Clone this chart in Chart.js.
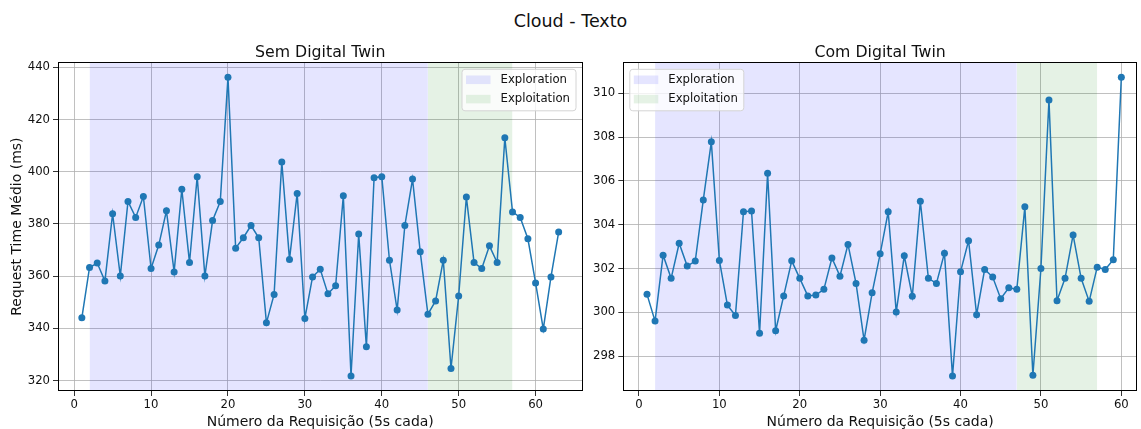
<!DOCTYPE html>
<html>
<head>
<meta charset="utf-8">
<script src="https://cdn.jsdelivr.net/npm/chart.js@4.4.1/dist/chart.umd.min.js"></script>
<style>
  body { margin: 0; background: #fff; width: 1141px; height: 429px; position: relative; overflow: hidden; font-family: "DejaVu Sans", sans-serif; }
  #suptitle { position: absolute; left: 0; top: 10px; width: 1141px; text-align: center; font-size: 17.5px; line-height: 22px; color: #111; }
  .panel { position: absolute; top: 0; }
  #left { left: 0; }
  #right { left: 590px; }
</style>
</head>
<body>
<div id="suptitle">Cloud - Texto</div>
<div class="panel" id="left"><canvas id="chartSem" width="590" height="429"></canvas></div>
<div class="panel" id="right"><canvas id="chartCom" width="551" height="429"></canvas></div>
<script>
const FONT = "'DejaVu Sans', sans-serif";
const TEXT = "#111";
const LINE = "#1f77b4";

// mean request time (ms), one value per request, starting at request 1
const semDigitalTwin = [
  344.0, 363.3, 365.0, 358.1, 383.9, 360.0, 388.6, 382.5, 390.5, 362.9,
  371.9, 385.0, 361.6, 393.3, 365.2, 398.1, 360.0, 381.3, 388.6, 436.2,
  370.7, 374.7, 379.4, 374.7, 342.1, 353.0, 403.7, 366.4, 391.7, 343.8,
  359.7, 362.6, 353.2, 356.3, 390.8, 321.7, 376.1, 332.9, 397.7, 398.1,
  366.1, 347.0, 379.4, 397.2, 369.3, 345.4, 350.5, 366.1, 324.6, 352.4,
  390.3, 365.2, 362.9, 371.6, 365.2, 413.0, 384.6, 382.5, 374.3, 357.4,
  339.7, 359.7, 376.9
];
const comDigitalTwin = [
  300.82, 299.60, 302.61, 301.55, 303.15, 302.11, 302.34, 305.13, 307.78, 302.37,
  300.33, 299.86, 304.59, 304.62, 299.04, 306.35, 299.16, 300.75, 302.35, 301.55,
  300.75, 300.79, 301.05, 302.48, 301.65, 303.10, 301.32, 298.73, 300.89, 302.67,
  304.59, 300.02, 302.58, 300.73, 305.07, 301.55, 301.32, 302.70, 297.09, 301.85,
  303.27, 299.89, 301.96, 301.61, 300.62, 301.12, 301.05, 304.82, 297.13, 302.00,
  309.69, 300.53, 301.55, 303.53, 301.55, 300.50, 302.06, 301.96, 302.40, 310.73
];

const xTicks = [0, 10, 20, 30, 40, 50, 60];
const semYTicks = [320, 340, 360, 380, 400, 420, 440];
const comYTicks = [298, 300, 302, 304, 306, 308, 310];

// phase spans, in request numbers
const semExploration = [2, 46];
const semExploitation = [46, 57];
const comExploration = [2, 47];
const comExploitation = [47, 57];

// axis limits
const semXRange = [-2.1, 66.1];
const semYRange = [315.98, 441.93];
const comXRange = [-1.95, 61.95];
const comYRange = [296.41, 311.41];

const BLUE_SPAN = "rgba(0, 0, 255, 0.1)";
const GREEN_SPAN = "rgba(0, 128, 0, 0.1)";

function phase(label, span, yTop, color) {
  return {
    type: "line",
    label,
    phase: true,
    data: [{ x: span[0], y: yTop }, { x: span[1], y: yTop }],
    fill: "start",
    backgroundColor: color,
    borderColor: "rgba(0,0,0,0)",
    borderWidth: 1,
    pointRadius: 0,
    order: 2
  };
}

// axes box, subplot title and the span legend
const decor = {
  id: "decor",
  afterDraw(chart, args, opts) {
    const { ctx, chartArea: a } = chart;
    ctx.save();
    ctx.strokeStyle = "#000";
    ctx.lineWidth = 1;
    ctx.strokeRect(Math.round(a.left) + 0.5, Math.round(a.top) + 0.5,
      Math.round(a.right - a.left) - 1, Math.round(a.bottom - a.top) - 1);

    ctx.fillStyle = TEXT;
    ctx.font = "15.75px " + FONT;
    ctx.textAlign = "center";
    ctx.textBaseline = "alphabetic";
    ctx.fillText(opts.title, (a.left + a.right) / 2, a.top - 5.5);

    const items = chart.data.datasets.filter(d => d.phase);
    ctx.font = "11.7px " + FONT;
    const textW = Math.max(...items.map(d => ctx.measureText(d.label).width));
    const w = 4.5 + 24.5 + 10 + textW + 5.5;
    const h = 41.5;
    const x = opts.legendSide === "right" ? a.right - 7 - w : a.left + 6;
    const y = a.top + 6.5;
    ctx.beginPath();
    ctx.roundRect(x + 0.5, y + 0.5, w, h, 3);
    ctx.fillStyle = "rgba(255,255,255,0.8)";
    ctx.fill();
    ctx.strokeStyle = "#d4d4d4";
    ctx.stroke();
    items.forEach((d, i) => {
      const cy = y + 11 + i * 19.3;
      ctx.fillStyle = d.backgroundColor;
      ctx.fillRect(x + 4.5, cy - 4.3, 24.5, 8.6);
      ctx.fillStyle = TEXT;
      ctx.textAlign = "left";
      ctx.textBaseline = "middle";
      ctx.fillText(d.label, x + 4.5 + 24.5 + 10, cy);
    });
    ctx.restore();
  }
};

function makeChart(id, cfg) {
  const points = cfg.values.map((v, i) => ({ x: i + 1, y: v }));
  const tickFont = { family: FONT, size: 11.7 };
  return new Chart(document.getElementById(id), {
    type: "line",
    data: {
      datasets: [
        {
          label: "Request Time",
          data: points,
          borderColor: LINE,
          backgroundColor: LINE,
          borderWidth: 1.5,
          pointRadius: 3.5,
          pointBorderWidth: 0,
          pointBackgroundColor: LINE,
          tension: 0,
          fill: false,
          order: 0
        },
        phase("Exploration", cfg.exploration, cfg.yRange[1], BLUE_SPAN),
        phase("Exploitation", cfg.exploitation, cfg.yRange[1], GREEN_SPAN)
      ]
    },
    options: {
      responsive: false,
      animation: false,
      devicePixelRatio: 1,
      layout: { padding: { left: 0, right: cfg.padRight, top: 62.3, bottom: 0 } },
      plugins: {
        legend: { display: false },
        tooltip: { enabled: false },
        title: { display: false },
        decor: { title: cfg.title, legendSide: cfg.legendSide }
      },
      scales: {
        x: {
          type: "linear",
          min: cfg.xRange[0],
          max: cfg.xRange[1],
          afterBuildTicks: s => { s.ticks = xTicks.map(v => ({ value: v })); },
          afterFit: s => { s.height = 38; },
          ticks: { color: TEXT, font: tickFont, padding: 2, maxRotation: 0, callback: v => String(v) },
          grid: { color: "#b0b0b0", lineWidth: 0.8, tickColor: "#000", tickLength: 5 },
          border: { display: false },
          title: { display: true, text: "Número da Requisição (5s cada)", color: TEXT, font: { family: FONT, size: 14 }, padding: { top: 0, bottom: -2 } }
        },
        y: {
          type: "linear",
          min: cfg.yRange[0],
          max: cfg.yRange[1],
          afterBuildTicks: s => { s.ticks = cfg.yTicks.map(v => ({ value: v })); },
          afterFit: s => { s.width = cfg.yWidth; },
          ticks: { color: TEXT, font: tickFont, padding: 3, callback: v => String(v) },
          grid: { color: "#b0b0b0", lineWidth: 0.8, tickColor: "#000", tickLength: 5 },
          border: { display: false },
          title: { display: !!cfg.yTitle, text: cfg.yTitle || "", color: TEXT, font: { family: FONT, size: 14 }, padding: { top: 9, bottom: 0 } }
        }
      }
    },
    plugins: [decor]
  });
}

makeChart("chartSem", {
  title: "Sem Digital Twin",
  values: semDigitalTwin,
  yTicks: semYTicks,
  xRange: semXRange,
  yRange: semYRange,
  exploration: semExploration,
  exploitation: semExploitation,
  legendSide: "right",
  yTitle: "Request Time Médio (ms)",
  yWidth: 58,
  padRight: 7.5
});

makeChart("chartCom", {
  title: "Com Digital Twin",
  values: comDigitalTwin,
  yTicks: comYTicks,
  xRange: comXRange,
  yRange: comYRange,
  exploration: comExploration,
  exploitation: comExploitation,
  legendSide: "left",
  yWidth: 33.3,
  padRight: 3
});
</script>
</body>
</html>
